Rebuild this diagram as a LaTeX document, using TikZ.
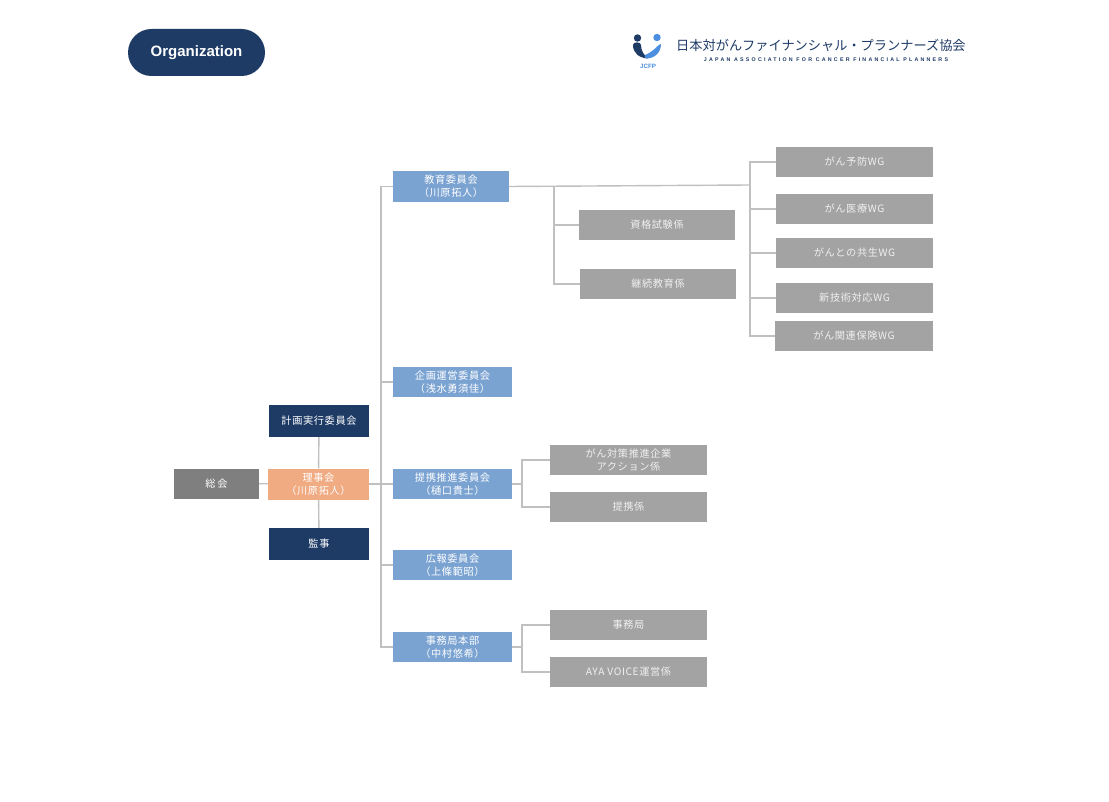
\documentclass[tikz,border=0pt]{standalone}
\usepackage{fontspec}
\setmainfont{Noto Sans CJK JP}
\newfontfamily\boxfont[LetterSpace=6]{Noto Sans CJK JP}
\newfontfamily\latinfont{Liberation Sans}
\newfontfamily\subfont[LetterSpace=42]{Liberation Sans}
\usetikzlibrary{positioning}

\definecolor{navy}{HTML}{1E3B66}
\definecolor{skyblue}{HTML}{7BA3D2}
\definecolor{salmon}{HTML}{F0AB83}
\definecolor{boxgray}{HTML}{A3A3A3}
\definecolor{darkgray}{HTML}{7F7F7F}
\definecolor{linegray}{HTML}{C0C0C0}
\definecolor{logoblue}{HTML}{4C8EE0}

\begin{document}
\begin{tikzpicture}[x=1pt,y=-1pt,
    box/.style={inner sep=0pt, minimum height=30pt, text=white, align=center,
        font=\boxfont\fontsize{10.2}{13}\selectfont},
    navybox/.style={box, fill=navy, minimum width=100pt, minimum height=32pt},
    bluebox/.style={box, fill=skyblue, minimum width=119pt},
    graybox/.style={box, fill=boxgray, minimum width=157pt, text=white!94!black},
    link/.style={draw=linegray, line width=1.4pt}]
        \useasboundingbox[fill=white] (0,0) rectangle (1109,802);
        % Header
        \node[fill=navy, rounded corners=23.5pt, minimum width=137pt, minimum height=47pt,
            text=white, font=\latinfont\bfseries\fontsize{15}{17}\selectfont] (org) at (196.5,52.5) {Organization};
        \fill[navy] (637.5,38) circle (3.7pt);
        \fill[logoblue] (657,37.5) circle (3.7pt);
        \fill[navy] (633,45) .. controls (633,53) and (639,58) .. (648,58.5) .. controls (644,55) and (641,51) .. (641,45)
            .. controls (641,41.5) and (633,41.5) .. (633,45) -- cycle;
        \fill[logoblue] (645,58.5) .. controls (654,59) and (661,53) .. (661,44) .. controls (658,44) and (655,51) .. (645,55) -- cycle;
        \node[text=logoblue, font=\latinfont\bfseries\fontsize{6.2}{7}\selectfont] (jcfp) at (648,66.5) {JCFP};
        \node[anchor=west, inner sep=0pt, text=navy, font=\fontsize{13.2}{15}\selectfont] (title) at (676,45)
            {日本対がんファイナンシャル・プランナーズ協会};
        \node[inner sep=0pt, text=navy, font=\subfont\bfseries\fontsize{5.3}{6}\selectfont] (subtitle) at (826,60)
            {JAPAN ASSOCIATION FOR CANCER FINANCIAL PLANNERS};
        % Board
        \node[box, fill=darkgray, minimum width=85pt] (soukai) at (216.5,483.5) {総\,会};
        \node[box, fill=salmon, minimum width=101pt, minimum height=31pt] (rijikai) at (318.5,484) {理事会\\（川原拓人）};
        \node[navybox] (keikaku) at (319,421) {計画実行委員会};
        \node[navybox] (kanji) at (319,544) {監事};
        % Committees
        \node[bluebox, minimum width=116pt, minimum height=31pt] (kyoiku) at (451,186.5) {教育委員会\\（川原拓人）};
        \node[bluebox] (kikaku) at (452.5,382) {企画運営委員会\\（浅水勇須佳）};
        \node[bluebox] (teikei) at (452.5,484) {提携推進委員会\\（樋口貴士）};
        \node[bluebox] (koho) at (452.5,565) {広報委員会\\（上條範昭）};
        \node[bluebox] (honbu) at (452.5,647) {事務局本部\\（中村悠希）};
        % Sections
        \node[graybox, minimum width=156pt] (shikaku) at (657,225) {資格試験係};
        \node[graybox, minimum width=156pt] (keizoku) at (658,284) {継続教育係};
        \node[graybox] (wgyobo) at (854.5,162) {がん予防WG};
        \node[graybox] (wgiryo) at (854.5,209) {がん医療WG};
        \node[graybox] (wgkyosei) at (854.5,253) {がんとの共生WG};
        \node[graybox] (wgshingi) at (854.5,298) {新技術対応WG};
        \node[graybox, minimum width=158pt] (wghoken) at (854,336) {がん関連保険WG};
        \node[graybox] (action) at (628.5,460) {がん対策推進企業\\アクション係};
        \node[graybox] (teikeigakari) at (628.5,507) {提携係};
        \node[graybox] (jimukyoku) at (628.5,625) {事務局};
        \node[graybox] (aya) at (628.5,672) {AYA VOICE運営係};
        % Junctions
        \coordinate (spine) at (381,186.5);
        \coordinate (kakari) at (554,186);
        \coordinate (wgbus) at (750,185);
        \coordinate (tbus) at (522,484);
        \coordinate (hbus) at (522,647);
        % Connectors
        \draw[link] (soukai) -- (rijikai);
        \draw[link] (keikaku) -- (rijikai);
        \draw[link] (rijikai) -- (kanji);
        \draw[link] (rijikai) -- (teikei);
        \draw[link] (kyoiku.west) -- (spine) |- (honbu.west);
        \foreach \c in {kikaku,koho} \draw[link] (spine) |- (\c.west);
        \draw[link] (kyoiku.east) -- (wgbus);
        \foreach \c in {wgyobo,wgiryo,wgkyosei,wgshingi,wghoken} \draw[link] (wgbus) |- (\c.west);
        \foreach \c in {shikaku,keizoku} \draw[link] (kakari) |- (\c.west);
        \draw[link] (teikei.east) -- (tbus);
        \foreach \c in {action,teikeigakari} \draw[link] (tbus) |- (\c.west);
        \draw[link] (honbu.east) -- (hbus);
        \foreach \c in {jimukyoku,aya} \draw[link] (hbus) |- (\c.west);
\end{tikzpicture}
\end{document}
